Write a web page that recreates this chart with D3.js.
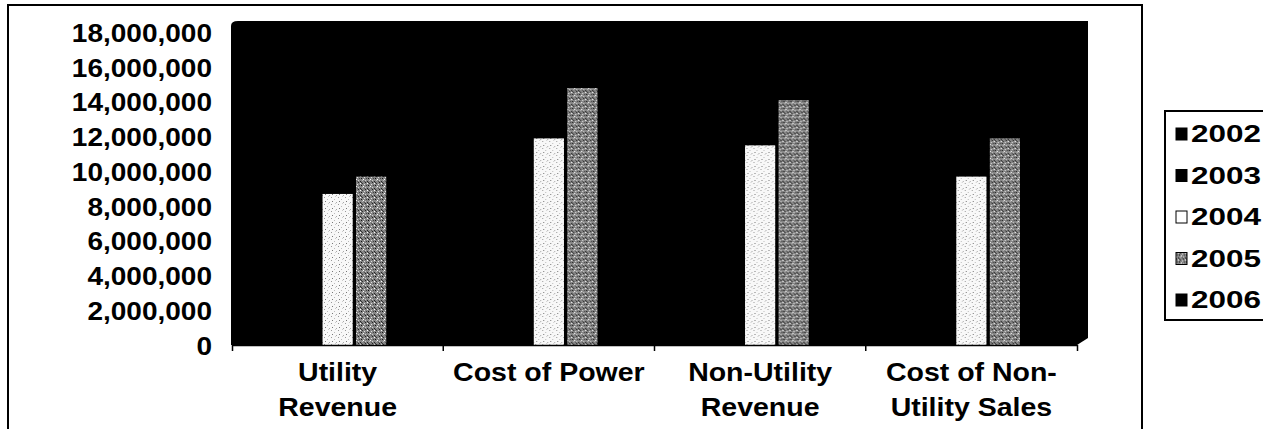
<!DOCTYPE html>
<html>
<head>
<meta charset="utf-8">
<script src="https://cdn.jsdelivr.net/npm/d3@7"></script>
<style>
  body { margin: 0; background: #fff; }
  svg { display: block; }
  text { font-family: "Liberation Sans", Arial, sans-serif; font-weight: bold; fill: #000; }
</style>
</head>
<body>
<div id="chart"></div>
<script>
// chart data
const categories = ["Utility Revenue", "Cost of Power", "Non-Utility Revenue", "Cost of Non-Utility Sales"];
const tickLines = [["Utility", "Revenue"], ["Cost of Power"], ["Non-Utility", "Revenue"], ["Cost of Non-", "Utility Sales"]];
const years = ["2002", "2003", "2004", "2005", "2006"];
const v2002 = [7200000, 3600000, 900000, 5500000];
const v2003 = [6600000, 4200000, 4000000, 5000000];
const v2004 = [8700000, 11900000, 11500000, 9700000];
const v2005 = [9700000, 14800000, 14100000, 11900000];
const v2006 = [10600000, 16800000, 14600000, 12200000];
const yTicks = [0, 2000000, 4000000, 6000000, 8000000, 10000000, 12000000, 14000000, 16000000, 18000000];

const series = [v2002, v2003, v2004, v2005, v2006];

const W = 1263, H = 429;
const plot = { left: 232, right: 1077, top: 32.5, bottom: 345 };

const svg = d3.select("#chart").append("svg")
  .attr("width", W)
  .attr("height", H);

// textures for the light bars
const defs = svg.append("defs");
function speckle(id, bg, dots) {
  const p = defs.append("pattern")
    .attr("id", id)
    .attr("width", 7).attr("height", 7)
    .attr("patternUnits", "userSpaceOnUse");
  p.append("rect").attr("width", 7).attr("height", 7).attr("fill", bg);
  dots.forEach(d => {
    p.append("rect").attr("x", d[0]).attr("y", d[1])
      .attr("width", 1).attr("height", 1).attr("fill", d[2]);
  });
}
speckle("pat2004", "#f8f8f8", [[1, 1, "#999"], [4, 3, "#bbb"], [2, 5, "#777"], [6, 6, "#aaa"], [5, 0, "#ccc"]]);
speckle("pat2005", "#858585", [[0, 0, "#222"], [2, 1, "#fff"], [4, 1, "#333"], [6, 2, "#ddd"], [1, 3, "#444"],
  [3, 3, "#111"], [5, 4, "#fff"], [0, 5, "#ccc"], [2, 6, "#222"], [6, 6, "#555"], [4, 5, "#bbb"], [3, 0, "#333"]]);

const colors = ["#000", "#000", "url(#pat2004)", "url(#pat2005)", "#000"];
const swatch = ["#000", "#000", "#fff", "url(#pat2005)", "#000"];

// outer frame
svg.append("rect")
  .attr("x", 8).attr("y", 5)
  .attr("width", 1134).attr("height", 440)
  .attr("fill", "none")
  .attr("stroke", "#000")
  .attr("stroke-width", 2);

// scales
const x0 = d3.scaleBand()
  .domain(categories)
  .range([plot.left, plot.right]);

const x1 = d3.scaleBand()
  .domain(years)
  .range([0, x0.bandwidth()])
  .paddingInner(0.1)
  .paddingOuter(0.7);

const y = d3.scaleLinear()
  .domain([0, 18000000])
  .range([plot.bottom, plot.top]);

// black 3d wall + floor
svg.append("path")
  .attr("d", "M231,26 Q231,21 238,21 L1088,21 L1088,338 L1077,345 L231,345 Z")
  .attr("fill", "#000");

// bars
const groups = svg.append("g")
  .selectAll("g")
  .data(categories)
  .join("g")
  .attr("transform", d => "translate(" + x0(d) + ",0)");

groups.selectAll("rect")
  .data((c, i) => years.map((yr, j) => ({ yr: yr, j: j, v: series[j][i] })))
  .join("rect")
  .attr("x", d => x1(d.yr))
  .attr("y", d => y(d.v))
  .attr("width", x1.bandwidth())
  .attr("height", d => y(0) - y(d.v))
  .attr("fill", d => colors[d.j]);

// y axis labels
const sx = 1.12;
const yAxis = svg.append("g")
  .attr("transform", "translate(231,0)")
  .call(d3.axisLeft(y).tickValues(yTicks).tickSize(0).tickPadding(17)
    .tickFormat(d3.format(",")));
yAxis.select(".domain").remove();
yAxis.selectAll("text")
  .style("font-size", "25px")
  .style("font-family", "'Liberation Sans', Arial, sans-serif")
  .style("font-weight", "bold")
  .attr("dy", "0.36em")
  .attr("transform", "scale(" + sx + ",1)");

// x axis line and ticks
const xAxis = svg.append("g")
  .attr("transform", "translate(0," + plot.bottom + ")")
  .call(d3.axisBottom(x0).tickSize(0).tickSizeOuter(6).tickFormat(""));
xAxis.select(".domain").attr("stroke", "#000").attr("stroke-width", 1.5);
xAxis.selectAll(".tick").remove();

svg.append("g")
  .selectAll("line")
  .data(categories.slice(1))
  .join("line")
  .attr("x1", d => x0(d)).attr("x2", d => x0(d))
  .attr("y1", plot.bottom).attr("y2", plot.bottom + 6)
  .attr("stroke", "#000")
  .attr("stroke-width", 1.5);

// category labels
const lab = svg.append("g")
  .selectAll("text")
  .data(categories)
  .join("text")
  .attr("transform", d => "translate(" + (x0(d) + x0.bandwidth() / 2) + ",381) scale(1.14,1)")
  .attr("text-anchor", "middle")
  .style("font-size", "25px");
lab.selectAll("tspan")
  .data((d, i) => tickLines[i])
  .join("tspan")
  .attr("x", 0)
  .attr("dy", (d, i) => i === 0 ? 0 : 35)
  .text(d => d);

// legend
svg.append("rect")
  .attr("x", 1165).attr("y", 111)
  .attr("width", 120).attr("height", 209)
  .attr("fill", "#fff")
  .attr("stroke", "#000")
  .attr("stroke-width", 2);

const leg = svg.append("g")
  .selectAll("g")
  .data(years)
  .join("g")
  .attr("transform", (d, i) => "translate(1176," + (134 + i * 41.5) + ")");

leg.append("rect")
  .attr("x", 0).attr("y", -6)
  .attr("width", 11).attr("height", 12)
  .attr("fill", (d, i) => swatch[i])
  .attr("stroke", "#000")
  .attr("stroke-width", 1);

leg.append("text")
  .attr("x", 15)
  .attr("dy", "0.36em")
  .attr("textLength", 70)
  .attr("lengthAdjust", "spacingAndGlyphs")
  .style("font-size", "23px")
  .text(d => d);
</script>
</body>
</html>
